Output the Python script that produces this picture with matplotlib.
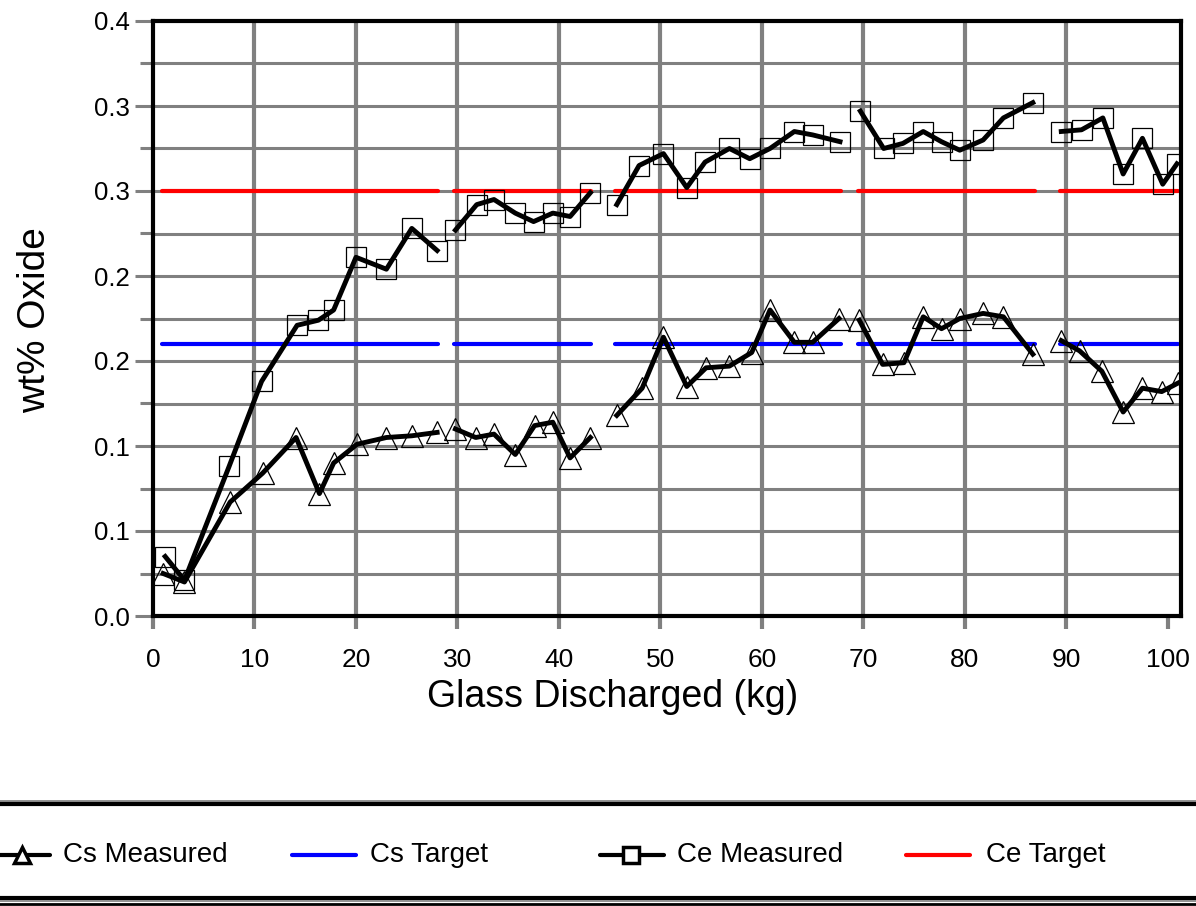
import numpy as np
import matplotlib
matplotlib.use("Agg")
import matplotlib.pyplot as plt
from matplotlib.lines import Line2D

plt.rcParams["font.family"] = ["Liberation Sans", "DejaVu Sans"]

nan = np.nan

# Glass discharged (kg) -- NaN marks a break between sampling runs
ce_x = [1.2, 3.1, 7.5, 10.7, 14.2, 16.3, 17.8, 20.0, 23.0, 25.5, 28.0, nan,
        29.8, 31.9, 33.6, 35.7, 37.5, 39.4, 41.1, 43.1, nan,
        45.7, 47.9, 50.3, 52.6, 54.4, 56.8, 58.8, 60.8, 63.2, 65.0, 67.7, nan,
        69.7, 72.0, 73.9, 75.9, 77.7, 79.5, 81.8, 83.8, 86.7, nan,
        89.5, 91.5, 93.6, 95.6, 97.5, 99.5, 100.9]
ce_y = [0.035, 0.021, 0.088, 0.138, 0.171, 0.174, 0.180, 0.211, 0.204, 0.228, 0.215, nan,
        0.227, 0.242, 0.245, 0.237, 0.232, 0.237, 0.235, 0.249, nan,
        0.242, 0.265, 0.272, 0.252, 0.267, 0.275, 0.269, 0.275, 0.285, 0.283, 0.279, nan,
        0.297, 0.275, 0.278, 0.285, 0.279, 0.274, 0.280, 0.293, 0.302, nan,
        0.285, 0.286, 0.293, 0.260, 0.281, 0.254, 0.266]

cs_x = [1.0, 3.1, 7.6, 10.8, 14.1, 16.4, 17.8, 20.1, 23.0, 25.5, 28.0, nan,
        29.8, 31.8, 33.6, 35.7, 37.6, 39.4, 41.1, 43.1, nan,
        45.7, 48.2, 50.3, 52.6, 54.5, 56.8, 59.0, 60.8, 63.2, 65.0, 67.6, nan,
        69.6, 71.9, 74.0, 75.9, 77.7, 79.5, 81.8, 83.8, 86.7, nan,
        89.5, 91.3, 93.5, 95.6, 97.5, 99.4, 101.0]
cs_y = [0.025, 0.020, 0.067, 0.084, 0.105, 0.072, 0.090, 0.101, 0.105, 0.106, 0.108, nan,
        0.110, 0.105, 0.107, 0.095, 0.112, 0.114, 0.093, 0.105, nan,
        0.118, 0.134, 0.164, 0.135, 0.146, 0.147, 0.155, 0.180, 0.161, 0.161, 0.175, nan,
        0.174, 0.148, 0.149, 0.176, 0.169, 0.175, 0.178, 0.176, 0.154, nan,
        0.162, 0.156, 0.144, 0.120, 0.134, 0.132, 0.137]

# target values, drawn over each sampling run
cs_target = 0.16
ce_target = 0.25
run_start = [0.9, 29.7, 45.5, 69.5, 89.4]
run_end = [28.1, 43.2, 67.8, 86.9, 101.0]

y_ticks = [0.0, 0.05, 0.10, 0.15, 0.20, 0.25, 0.30, 0.35]
y_tick_labels = ["0.0", "0.1", "0.1", "0.2", "0.2", "0.3", "0.3", "0.4"]
x_ticks = [0, 10, 20, 30, 40, 50, 60, 70, 80, 90, 100]

W, H = 1196, 906
fig = plt.figure(figsize=(W / 100, H / 100), dpi=100)
ax = fig.add_axes([153 / W, 1 - 616 / H, (1181 - 153) / W, (616 - 21) / H])

grid_gray = "#808080"
for x in x_ticks[1:-1]:
    ax.axvline(x, color=grid_gray, lw=3, zorder=1)
for y in np.arange(0.025, 0.35, 0.025):
    ax.axhline(y, color=grid_gray, lw=2.2, zorder=1)

ax.hlines([ce_target] * len(run_start), run_start, run_end, colors="#ff0000",
          lw=3, zorder=2, capstyle="round")
ax.hlines([cs_target] * len(run_start), run_start, run_end, colors="#0000ff",
          lw=3, zorder=2, capstyle="round")

ax.plot(ce_x, ce_y, color="black", lw=3.5, marker="s", ms=14.5, mfc="none",
        mec="black", mew=0.9, zorder=3)
ax.plot(cs_x, cs_y, color="black", lw=3.5, marker="^", ms=15.5, mfc="none",
        mec="black", mew=0.9, zorder=3)

ax.set_xlim(0, 101.3)
ax.set_ylim(0, 0.35)
ax.set_xticks(x_ticks)
ax.set_yticks(y_ticks)
ax.set_yticklabels(y_tick_labels)
ax.set_yticks(np.arange(0.025, 0.35, 0.05), minor=True)
ax.tick_params(axis="x", length=9, width=3, color=grid_gray, pad=14, labelsize=19)
ax.tick_params(axis="y", which="major", length=13, width=2.2, color=grid_gray,
               pad=3.5, labelsize=18.5)
ax.tick_params(axis="y", which="minor", length=9.5, width=2.2, color=grid_gray)

for s in ax.spines.values():
    s.set_linewidth(3)
    s.set_color("black")
    s.set_zorder(4)

ax.set_xlabel("Glass Discharged (kg)", fontsize=27)
ax.xaxis.set_label_coords((613 - 153) / 1028, (616 - 679) / 595)
ax.set_ylabel("wt% Oxide", fontsize=28, va="center")
ax.yaxis.set_label_coords((35 - 153) / 1028, (616 - 320) / 595)

# legend band at the bottom
for yy, lw, c in [(801, 1.2, grid_gray), (804, 3, "black"),
                  (898, 3, "black"), (901, 1.2, grid_gray), (904, 2, "black")]:
    fig.add_artist(Line2D([0, 1], [1 - yy / H] * 2, transform=fig.transFigure,
                          color=c, lw=lw))

leg_y = 1 - 855 / H
items = [
    ((0, 50), 22, "^", "black", 63, "Cs Measured"),
    ((292, 356), None, None, "#0000ff", 370, "Cs Target"),
    ((600, 664), 631, "s", "black", 677, "Ce Measured"),
    ((906, 970), None, None, "#ff0000", 986, "Ce Target"),
]
for (x0, x1), mx, mk, c, tx, label in items:
    fig.add_artist(Line2D([x0 / W, x1 / W], [leg_y, leg_y], transform=fig.transFigure,
                          color=c, lw=3, solid_capstyle="round"))
    if mk:
        fig.add_artist(Line2D([mx / W], [leg_y], transform=fig.transFigure,
                              marker=mk, ms=12, mfc="white", mec="black", mew=2.5))
    fig.text(tx / W, leg_y, label, fontsize=20, va="center", ha="left")

fig.savefig("out.png", dpi=100)
